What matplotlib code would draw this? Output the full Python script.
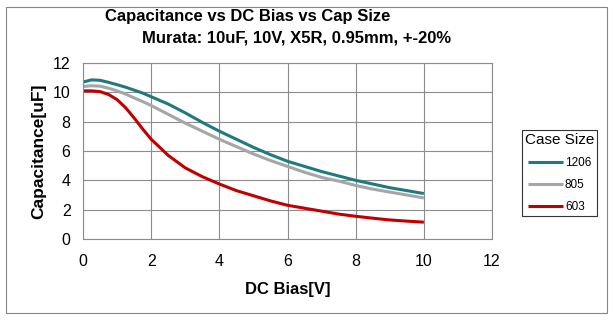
import matplotlib
matplotlib.use("Agg")
import matplotlib.pyplot as plt
from matplotlib.patches import Rectangle

plt.rcParams['font.family'] = ['Liberation Sans', 'DejaVu Sans']

# DC bias [V]
bias = [0, 0.25, 0.5, 0.75, 1, 1.25, 1.5, 1.75, 2, 2.5, 3, 3.5, 4, 4.5, 5, 5.5, 6, 6.5, 7, 7.5, 8, 8.5, 9, 9.5, 10]
# capacitance [uF] per case size
cap_1206 = [10.7, 10.85, 10.82, 10.68, 10.52, 10.35, 10.15, 9.95, 9.7, 9.2, 8.6, 7.95, 7.35, 6.8, 6.25, 5.75, 5.3, 4.95, 4.6, 4.3, 4.0, 3.75, 3.5, 3.3, 3.1]
cap_805 = [10.4, 10.45, 10.42, 10.28, 10.1, 9.88, 9.62, 9.37, 9.1, 8.5, 7.9, 7.35, 6.8, 6.3, 5.8, 5.35, 4.95, 4.55, 4.2, 3.95, 3.65, 3.4, 3.2, 3.0, 2.8]
cap_603 = [10.1, 10.1, 10.05, 9.85, 9.5, 8.95, 8.25, 7.5, 6.8, 5.7, 4.85, 4.25, 3.75, 3.3, 2.95, 2.6, 2.3, 2.1, 1.9, 1.7, 1.55, 1.42, 1.3, 1.22, 1.15]

series = [("1206", cap_1206, "#1f7a80"),
          ("805", cap_805, "#a6a6a6"),
          ("603", cap_603, "#c00000")]

fig = plt.figure(figsize=(6.15, 3.23), dpi=100)
fig.patches.append(Rectangle((6 / 615, 1 - 313 / 323), 601 / 615, 306 / 323,
                             transform=fig.transFigure, fill=False,
                             edgecolor="#868686", linewidth=0.8))

ax = fig.add_axes([0.135, 0.26, 0.665, 0.545])
for name, vals, col in series:
    ax.plot(bias, vals, color=col, linewidth=2.2, label=name, solid_capstyle="butt")

ax.set_xlim(0, 12)
ax.set_ylim(0, 12)
ax.set_xticks(range(0, 13, 2))
ax.set_yticks(range(0, 13, 2))
ax.grid(True, color="#8c8c8c", linewidth=0.8)
for s in ax.spines.values():
    s.set_color("#8c8c8c")
    s.set_linewidth(0.8)
ax.tick_params(length=0, labelsize=11.5)
ax.tick_params(axis="x", pad=11)
ax.tick_params(axis="y", pad=9)
ax.set_xlabel("DC Bias[V]", fontsize=12, fontweight="bold", labelpad=9)
ax.set_ylabel("Capacitance[uF]", fontsize=12.5, fontweight="bold", labelpad=5)

leg = ax.legend(title="Case Size", loc="upper left", bbox_to_anchor=(516 / 615, 1 - 124 / 323),
                bbox_transform=fig.transFigure, fontsize=8.5, title_fontsize=11,
                frameon=True, fancybox=False, edgecolor="black", borderpad=0.25,
                handlelength=3.0, handletextpad=0.15, labelspacing=0.85)
leg.get_frame().set_linewidth(0.8)

fig.text(248 / 615, 1 - 17 / 323, "Capacitance vs DC Bias vs Cap Size", ha="center", va="center",
         fontsize=12, fontweight="bold")
fig.text(297 / 615, 1 - 38 / 323, "Murata: 10uF, 10V, X5R, 0.95mm, +-20%", ha="center", va="center",
         fontsize=12, fontweight="bold")

fig.savefig("out.png", dpi=100)
